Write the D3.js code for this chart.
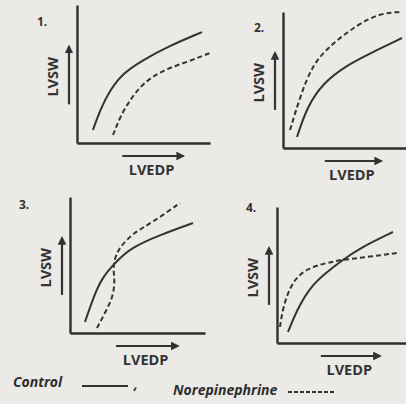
<!DOCTYPE html>
<meta charset="utf-8">
<style>
body { margin: 0; background: #ebeae7; }
svg { display: block; }
.ax path { stroke: #2e2e2e; stroke-width: 2.4; fill: none; }
.curve { fill: none; stroke: #333; stroke-width: 2; }
.dash { stroke-dasharray: 5,3; }
.lbl { font-family: "Open Sans", sans-serif; font-weight: 700; font-size: 14.5px; fill: #333; }
.num { font-family: "Open Sans", sans-serif; font-weight: 700; font-size: 12px; fill: #333; }
.leg { font-family: "Open Sans", sans-serif; font-style: italic; font-weight: 700; font-size: 14px; fill: #2e2e2e; }
</style>
<body>
<svg></svg>
<script src="https://d3js.org/d3.v7.min.js"></script>
<script>

var width = 406, height = 404;

// panel names
var panels = ["1.", "2.", "3.", "4."];

// curves in arbitrary units (0-10 both axes)
var control1 = [[1.2,0.94],[1.73,2.39],[2.48,3.84],[3.46,5.07],[4.96,6.01],[6.77,6.96],[9.4,8.04]];
var norepi1  = [[2.71,0.58],[3.23,1.88],[3.98,3.12],[4.96,4.35],[6.47,5.29],[8.27,5.87],[10,6.52]];

var control2 = [[1.14,0.81],[1.95,3.01],[3.25,4.78],[5.2,6.1],[7.32,7.06],[9.67,8.09]];
var norepi2  = [[0.57,1.32],[1.38,3.75],[2.44,6.25],[4.07,7.72],[6.02,9.04],[7.89,9.93],[9.67,10]];

var control3 = [[1.11,0.81],[1.85,2.94],[2.44,4.12],[3.19,5.0],[4.44,6.25],[6.67,7.21],[9.11,8.09]];
var norepi3  = [[2.0,0.37],[2.59,1.47],[3.19,2.65],[3.33,3.9],[3.19,4.63],[3.33,5.59],[3.7,6.32],[4.67,7.35],[6.15,8.16],[8.15,9.56]];

var control4 = [[0.85,0.81],[1.55,2.43],[2.56,4.12],[3.88,5.22],[4.88,5.96],[6.43,6.99],[8.99,8.16]];
var norepi4  = [[0.23,1.18],[0.47,2.65],[1.01,4.12],[1.78,5.15],[3.1,5.74],[4.88,6.1],[6.98,6.32],[9.3,6.62]];

var controls = [control1, control2, control3, control4];
var norepis = [norepi1, norepi2, norepi3, norepi4];

var xLabel = "LVEDP", yLabel = "LVSW";
var legendLabels = ["Control", "Norepinephrine"];

// where each little plot sits: origin, size, and number label offset in px
var layout = [
  {ox: 77,  oy: 143, w: 133, h: 138, nx: -40, ny: -117},
  {ox: 283, oy: 148, w: 123, h: 136, nx: -29, ny: -116},
  {ox: 70,  oy: 333, w: 135, h: 136, nx: -51, ny: -124},
  {ox: 277, oy: 343, w: 129, h: 136, nx: -31, ny: -131}
];

var svg = d3.select("svg")
    .attr("width", width)
    .attr("height", height);

var defs = svg.append("defs");
defs.append("marker")
    .attr("id", "head")
    .attr("viewBox", "0 0 10 10")
    .attr("refX", 8).attr("refY", 5)
    .attr("markerWidth", 4).attr("markerHeight", 4)
    .attr("orient", "auto")
  .append("path")
    .attr("d", "M0,0L10,5L0,10z")
    .attr("fill", "#333");

panels.forEach(function(name, i) {
  var L = layout[i];
  var g = svg.append("g")
      .attr("transform", "translate(" + L.ox + "," + L.oy + ")");

  var x = d3.scaleLinear().domain([0, 10]).range([0, L.w]);
  var y = d3.scaleLinear().domain([0, 10]).range([0, -L.h]);

  g.append("g").attr("class", "ax")
      .call(d3.axisBottom(x).tickValues([]).tickSizeOuter(0));
  g.append("g").attr("class", "ax")
      .call(d3.axisLeft(y).tickValues([]).tickSizeOuter(0));

  var line = d3.line()
      .x(function(d) { return x(d[0]); })
      .y(function(d) { return y(d[1]); })
      .curve(d3.curveBasis);

  g.append("path").attr("class", "curve").attr("d", line(controls[i]));
  g.append("path").attr("class", "curve dash").attr("d", line(norepis[i]));

  // direction arrows
  g.append("line")
      .attr("x1", -8).attr("x2", -8)
      .attr("y1", y(2.8)).attr("y2", y(7))
      .attr("stroke", "#333").attr("stroke-width", 2.2)
      .attr("marker-end", "url(#head)");
  g.append("text").attr("class", "lbl")
      .attr("text-anchor", "middle")
      .attr("transform", "translate(-19," + y(4.8) + ") rotate(-90)")
      .text(yLabel);

  g.append("line")
      .attr("x1", x(3.4)).attr("x2", x(8))
      .attr("y1", 13).attr("y2", 13)
      .attr("stroke", "#333").attr("stroke-width", 2.2)
      .attr("marker-end", "url(#head)");
  g.append("text").attr("class", "lbl")
      .attr("text-anchor", "middle")
      .attr("x", x(5.6)).attr("y", 32)
      .text(xLabel);

  g.append("text").attr("class", "num")
      .attr("x", L.nx).attr("y", L.ny)
      .text(name);
});

// legend
var leg = svg.append("g");
leg.append("text").attr("class", "leg").attr("x", 13).attr("y", 387).text(legendLabels[0]);
leg.append("line").attr("x1", 82).attr("x2", 128).attr("y1", 386).attr("y2", 386)
    .attr("stroke", "#333").attr("stroke-width", 2);
leg.append("text").attr("class", "leg").attr("x", 134).attr("y", 389).text(",");
leg.append("text").attr("class", "leg").attr("x", 173).attr("y", 395).text(legendLabels[1]);
leg.append("line").attr("x1", 288).attr("x2", 334).attr("y1", 392).attr("y2", 392)
    .attr("stroke", "#333").attr("stroke-width", 1.8).attr("stroke-dasharray", "4,2");

</script>
